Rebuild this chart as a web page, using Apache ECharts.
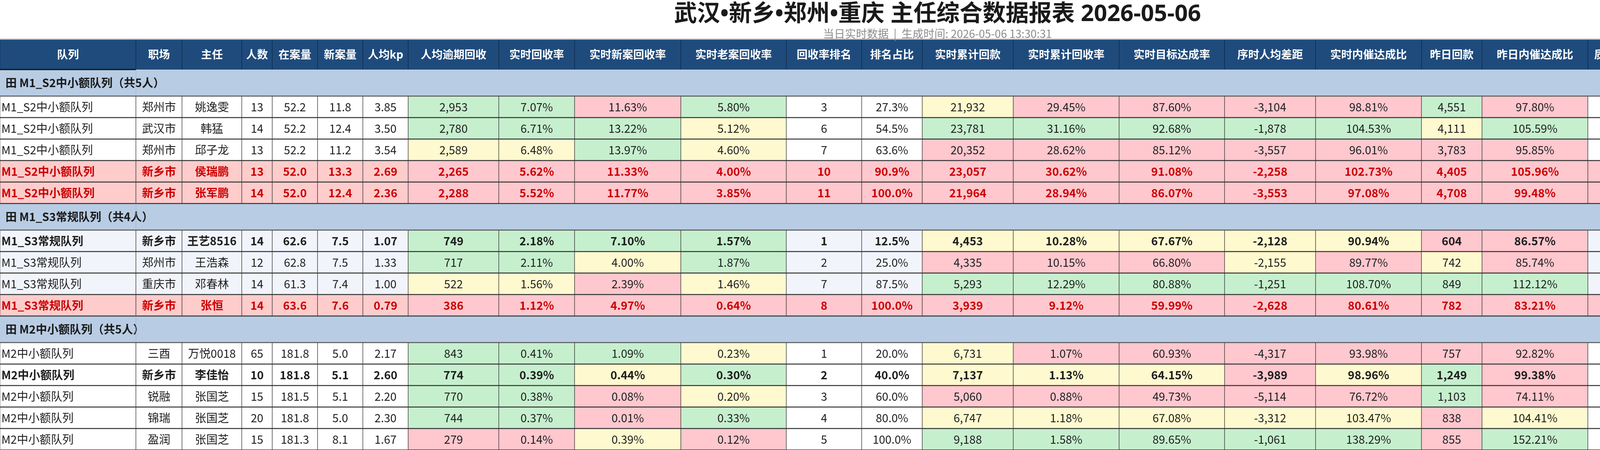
<!DOCTYPE html>
<html>
<head>
<meta charset="utf-8">
<title>主任综合数据报表</title>
<script src="https://cdn.jsdelivr.net/npm/echarts@6/dist/echarts.min.js"></script>
<style>
    html, body {margin: 0; padding: 0; background: #fff;}
    #report {width: 4800px; height: 1152px;}
</style>
</head>
<body>
<div id="report"></div>
<script>
// 表头
const columns = ['队列', '职场', '主任', '人数', '在案量', '新案量', '人均kp', '人均逾期回收', '实时回收率',
    '实时新案回收率', '实时老案回收率', '回收率排名', '排名占比', '实时累计回款', '实时累计回收率', '实时目标达成率',
    '序时人均差距', '实时内催达成比', '昨日回款', '昨日内催达成比', '质检量', '投诉量', '投诉率', '投诉达成率', '重渠投诉量'];

const groupNames = ['M1_S2中小额队列', 'M1_S3常规队列', 'M2中小额队列'];

// 每列数据, 14行, null 显示为 "-"
const queue = ['M1_S2中小额队列', 'M1_S2中小额队列', 'M1_S2中小额队列', 'M1_S2中小额队列', 'M1_S2中小额队列',
    'M1_S3常规队列', 'M1_S3常规队列', 'M1_S3常规队列', 'M1_S3常规队列',
    'M2中小额队列', 'M2中小额队列', 'M2中小额队列', 'M2中小额队列', 'M2中小额队列'];
const site = ['郑州市', '武汉市', '郑州市', '新乡市', '新乡市', '新乡市', '郑州市', '重庆市', '新乡市',
    '三酉', '新乡市', '锐融', '锦瑞', '盈润'];
const director = ['姚逸雯', '韩猛', '邱子龙', '侯瑞鹏', '张军鹏', '王艺8516', '王浩森', '邓春林', '张恒',
    '万悦0018', '李佳怡', '张国芝', '张国芝', '张国芝'];
const headcount = [13, 14, 13, 13, 14, 14, 12, 14, 14, 65, 10, 15, 20, 15];
const caseload = [52.2, 52.2, 52.2, 52.0, 52.0, 62.6, 62.8, 61.3, 63.6, 181.8, 181.8, 181.5, 181.8, 181.3];
const newCases = [11.8, 12.4, 11.2, 13.3, 12.4, 7.5, 7.5, 7.4, 7.6, 5.0, 5.1, 5.1, 5.0, 8.1];
const kp = [3.85, 3.50, 3.54, 2.69, 2.36, 1.07, 1.33, 1.00, 0.79, 2.17, 2.60, 2.20, 2.30, 1.67];
const perCapita = [2953, 2780, 2589, 2265, 2288, 749, 717, 522, 386, 843, 774, 770, 744, 279];
const rate = [7.07, 6.71, 6.48, 5.62, 5.52, 2.18, 2.11, 1.56, 1.12, 0.41, 0.39, 0.38, 0.37, 0.14];
const newRate = [11.63, 13.22, 13.97, 11.33, 11.77, 7.10, 4.00, 2.39, 4.97, 1.09, 0.44, 0.08, 0.01, 0.39];
const oldRate = [5.80, 5.12, 4.60, 4.00, 3.85, 1.57, 1.87, 1.46, 0.64, 0.23, 0.30, 0.20, 0.33, 0.12];
const rank = [3, 6, 7, 10, 11, 1, 2, 7, 8, 1, 2, 3, 4, 5];
const rankShare = [27.3, 54.5, 63.6, 90.9, 100.0, 12.5, 25.0, 87.5, 100.0, 20.0, 40.0, 60.0, 80.0, 100.0];
const cumAmount = [21932, 23781, 20352, 23057, 21964, 4453, 4335, 5293, 3939, 6731, 7137, 5060, 6747, 9188];
const cumRate = [29.45, 31.16, 28.62, 30.62, 28.94, 10.28, 10.15, 12.29, 9.12, 1.07, 1.13, 0.88, 1.18, 1.58];
const targetRate = [87.60, 92.68, 85.12, 91.08, 86.07, 67.67, 66.80, 80.88, 59.99, 60.93, 64.15, 49.73, 67.08, 89.65];
const gap = [-3104, -1878, -3557, -2258, -3553, -2128, -2155, -1251, -2628, -4317, -3989, -5114, -3312, -1061];
const innerRatio = [98.81, 104.53, 96.01, 102.73, 97.08, 90.94, 89.77, 108.70, 80.61, 93.98, 98.96, 76.72, 103.47, 138.29];
const yesterday = [4551, 4111, 3783, 4405, 4708, 604, 742, 849, 782, 757, 1249, 1103, 838, 855];
const yInnerRatio = [97.80, 105.59, 95.85, 105.96, 99.48, 86.57, 85.74, 112.12, 83.21, 92.82, 99.38, 74.11, 104.41, 152.21];
const qc = [0.0, 0.0, 0.0, 0.0, 0.0, 0.0, 0.0, 0.0, 0.0, null, 0.0, null, null, null];
const complaints = [1, 6, 3, 1, 2, 1, 1, 1, 1, null, null, null, null, null];
const complaintRate = [0.08, 0.45, 0.25, 0.08, 0.15, 0.09, 0.10, 0.09, 0.09, null, null, null, null, null];
const complaintTarget = [null, null, null, null, null, null, null, null, null, null, null, null, null, null];
const reChannel = [0, 0, 0, 0, 0, 0, 0, 0, 0, null, null, null, null, null];

// 行类型: n 普通, b 加粗(新乡), a 预警(红字)
const rowKind = ['n', 'n', 'n', 'a', 'a', 'b', 'n', 'n', 'a', 'n', 'b', 'n', 'n', 'n'];
// 条件格式, 从"人均逾期回收"列起: g 绿, y 黄, p 红, . 无
const tones = [
    'ggpg..yppppgp..g..', 'gggy..gggggyg..p..', 'yygy..ppppppp..y..', '..................', '..................',
    'gggg..yyyyypp..g..', 'ggyg..pppypyp..p..', 'yypy..ggggggg..g..', '..................',
    'gggy..ypppppp.....', 'ggyg..yyypygp.....', 'ggpy..pppppgp.....', 'ggpg..yyyyypy.....', 'ppyp..gggggpg.....'
];

// ---- 版式 ----
const colWidths = [348, 118, 153, 78, 116, 116, 116, 232, 194, 272, 270, 193, 155, 233, 271, 270, 233, 271, 155, 271, 116, 116, 116, 193, 194];
const HEAD_H = 78, GROUP_H = 68, ROW_H = 55;
const FONT = "'Noto Sans CJK SC', 'Noto Sans', sans-serif";
const TITLE_FONT = "'Noto Sans', 'Noto Sans CJK SC', sans-serif";
const TONE_COLOR = {g: '#c6efce', y: '#fff9cf', p: '#ffc7ce'};
const GROUP_TINT = ['#ffffff', '#f1f4fb', '#ffffff'];

const colX = [0];
colWidths.forEach(w => colX.push(colX[colX.length - 1] + w));
const TOTAL_W = colX[colX.length - 1];

const thousands = v => (v < 0 ? '-' : '') + String(Math.abs(v)).replace(/\B(?=(\d{3})+(?!\d))/g, ',');
const fmt = {
    txt: v => v,
    int: v => thousands(v),
    f1: v => v.toFixed(1),
    f2: v => v.toFixed(2),
    p1: v => v.toFixed(1) + '%',
    p2: v => v.toFixed(2) + '%'
};
const columnValues = [queue, site, director, headcount, caseload, newCases, kp, perCapita, rate, newRate, oldRate,
    rank, rankShare, cumAmount, cumRate, targetRate, gap, innerRatio, yesterday, yInnerRatio, qc, complaints,
    complaintRate, complaintTarget, reChannel];
const columnFormats = ['txt', 'txt', 'txt', 'int', 'f1', 'f1', 'f2', 'int', 'p2', 'p2', 'p2', 'int', 'p1', 'int',
    'p2', 'p2', 'int', 'p2', 'int', 'p2', 'f1', 'int', 'p2', 'p2', 'int'];

const cells = [];
const lines = [];

columns.forEach((name, c) => {
    cells.push({
        x0: colX[c], x1: colX[c + 1], y0: 0, y1: HEAD_H, text: name,
        fill: '#1f4b7c', stroke: '#0e2440', color: '#ffffff', weight: 'bold', size: 28
    });
});
lines.push({x0: 0, x1: colX[1], y0: HEAD_H, y1: HEAD_H, color: '#111', width: 3});
lines.push({x0: colX[24], x1: TOTAL_W, y0: HEAD_H, y1: HEAD_H, color: '#111', width: 3});

let y = HEAD_H;
let r = 0;
groupNames.forEach((g, gi) => {
    const size = queue.filter(q => q === g).length;
    cells.push({
        x0: 0, x1: TOTAL_W, y0: y, y1: y + GROUP_H, text: '田 ' + g + '（共' + size + '人）',
        fill: '#b8cce4', stroke: 'none', color: '#1a1a1a', weight: 'bold', size: 29, align: 'left', pad: 14
    });
    lines.push({x0: colX[1], x1: colX[1], y0: y, y1: y + GROUP_H, color: '#9fb4cf', width: 1});
    lines.push({x0: colX[24], x1: colX[24], y0: y, y1: y + GROUP_H, color: '#333', width: 1.5});
    y += GROUP_H;
    lines.push({x0: 0, x1: TOTAL_W, y0: y, y1: y, color: '#555', width: 2.5});
    for (let k = 0; k < size; k++, r++) {
        const kind = rowKind[r];
        columns.forEach((_, c) => {
            const v = columnValues[c][r];
            const tone = c >= 7 ? tones[r][c - 7] : '.';
            let fill = GROUP_TINT[gi];
            if (kind === 'a') fill = c >= 7 ? '#ffc7ce' : '#ffcccc';
            else if (tone !== '.') fill = TONE_COLOR[tone];
            cells.push({
                x0: colX[c], x1: colX[c + 1], y0: y, y1: y + ROW_H,
                text: v === null || v === undefined ? '-' : fmt[columnFormats[c]](v),
                fill: fill, stroke: '#222',
                color: kind === 'a' ? '#cc0000' : '#1e1e1e',
                weight: kind === 'n' ? 'normal' : 'bold', size: 29,
                align: c === 0 ? 'left' : 'center', pad: 4
            });
        });
        y += ROW_H;
        lines.push({x0: 0, x1: TOTAL_W, y0: y, y1: y, color: '#333', width: 2.5});
    }
});
lines.push({x0: 0, x1: TOTAL_W, y0: 0, y1: 0, color: '#c8c8c8', width: 3});

const chart = echarts.init(document.getElementById('report'));

const option = {
    animation: false,
    title: {
        text: '武汉•新乡•郑州•重庆 主任综合数据报表 2026-05-06',
        subtext: '当日实时数据  |  生成时间: 2026-05-06 13:30:31',
        left: 'center',
        top: 0,
        itemGap: 2,
        textStyle: {fontFamily: TITLE_FONT, fontSize: 59, fontWeight: 'bold', color: '#1a1a1a', lineHeight: 64},
        subtextStyle: {fontFamily: FONT, fontSize: 28, color: '#8c8c8c', lineHeight: 30}
    },
    grid: {left: 0, right: 0, top: 100, bottom: 0},
    xAxis: {type: 'value', min: 0, max: TOTAL_W, show: false},
    yAxis: {type: 'value', min: 0, max: y, inverse: true, show: false},
    series: [{
        type: 'custom',
        coordinateSystem: 'cartesian2d',
        encode: {x: [0, 1], y: [2, 3]},
        data: cells.map(c => [c.x0, c.x1, c.y0, c.y1]),
        renderItem: (params, api) => {
            const d = cells[params.dataIndex];
            const p0 = api.coord([api.value(0), api.value(2)]);
            const p1 = api.coord([api.value(1), api.value(3)]);
            return {
                type: 'rect',
                shape: {x: p0[0], y: p0[1], width: p1[0] - p0[0], height: p1[1] - p0[1]},
                style: {fill: d.fill, stroke: d.stroke, lineWidth: 1},
                textContent: {
                    style: {
                        text: d.text, fill: d.color, fontSize: d.size, fontWeight: d.weight, fontFamily: FONT
                    }
                },
                textConfig: d.align === 'left'
                    ? {position: 'insideLeft', distance: d.pad}
                    : {position: 'inside'}
            };
        }
    }, {
        type: 'custom',
        coordinateSystem: 'cartesian2d',
        encode: {x: [0, 1], y: [2, 3]},
        z: 3,
        data: lines.map(l => [l.x0, l.x1, l.y0, l.y1]),
        renderItem: (params, api) => {
            const l = lines[params.dataIndex];
            const a = api.coord([api.value(0), api.value(2)]);
            const b = api.coord([api.value(1), api.value(3)]);
            return {
                type: 'line',
                shape: {x1: a[0], y1: a[1], x2: b[0], y2: b[1]},
                style: {stroke: l.color, lineWidth: l.width}
            };
        }
    }]
};

chart.setOption(option);
</script>
</body>
</html>
